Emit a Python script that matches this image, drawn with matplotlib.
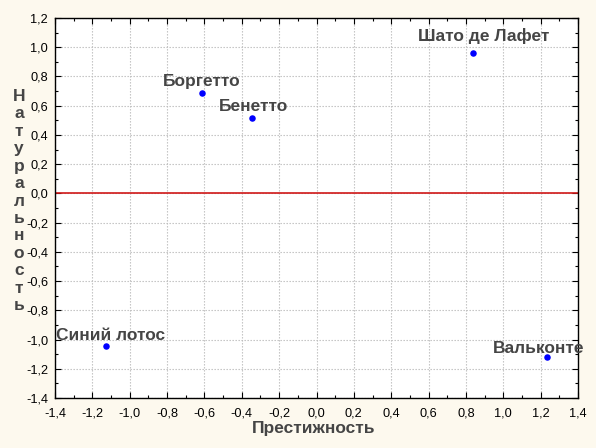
import matplotlib
matplotlib.use("Agg")
import matplotlib.pyplot as plt
from matplotlib.ticker import MultipleLocator, FuncFormatter

# brand positions on the perceptual map
brands = ["Боргетто", "Бенетто", "Шато де Лафет", "Синий лотос", "Вальконте"]
prestige = [-0.615, -0.345, 0.838, -1.125, 1.236]
naturalness = [0.688, 0.513, 0.962, -1.047, -1.120]

# label nudges in pixels (dx, dy) relative to the point
label_dx = [0, 1, 11, 4, -9]
label_dy = [7, 7, 12, 6, 4]

plt.rcParams["font.family"] = ["Liberation Sans", "DejaVu Sans"]

fig = plt.figure(figsize=(5.96, 4.48), dpi=100, facecolor="#fdf9ee")
ax = fig.add_axes([55 / 596, 1 - 398 / 448, 523 / 596, 380 / 448])
ax.set_facecolor("white")

ax.set_xlim(-1.4, 1.4)
ax.set_ylim(-1.4, 1.2)

ax.xaxis.set_major_locator(MultipleLocator(0.2))
ax.yaxis.set_major_locator(MultipleLocator(0.2))
ax.xaxis.set_minor_locator(MultipleLocator(0.1))
ax.yaxis.set_minor_locator(MultipleLocator(0.1))
comma = FuncFormatter(lambda v, pos: f"{v:.1f}".replace(".", ",").replace("-0,0", "0,0"))
ax.xaxis.set_major_formatter(comma)
ax.yaxis.set_major_formatter(comma)

ax.tick_params(which="both", direction="in", top=True, right=True,
               colors="black", labelsize=9.2)
ax.tick_params(which="major", length=4, width=0.8)
ax.tick_params(which="minor", length=2.5, width=0.8)
ax.tick_params(axis="x", which="major", pad=7)
ax.tick_params(axis="y", which="major", pad=5)

ax.grid(which="major", color="#bcbcbc", linestyle=(0, (1.2, 1.5)), linewidth=0.8)
ax.set_axisbelow(True)
for sp in ax.spines.values():
    sp.set_color("black")
    sp.set_linewidth(1.0)

ax.axhline(0, color="#d01818", linewidth=1.2, zorder=2)

ax.scatter(prestige, naturalness, s=22, color="#0000ff", zorder=3, linewidths=0)

for name, x, y, dx, dy in zip(brands, prestige, naturalness, label_dx, label_dy):
    ax.annotate(name, (x, y), xytext=(dx, dy), textcoords="offset pixels",
                ha="center", va="baseline", fontsize=12.5, fontweight="bold",
                color="#454545", zorder=4, annotation_clip=False)

fig.text(314 / 596, 1 - 428 / 448, "Престижность", ha="center", va="center",
         fontsize=12.5, fontweight="bold", color="#454545")

ylab = "Натуральность"
fig.text(19 / 596, 1 - 201 / 448, "\n".join(ylab), ha="center", va="center",
         fontsize=12.5, fontweight="bold", color="#454545", linespacing=1.2)

fig.savefig("out.png", dpi=100, facecolor=fig.get_facecolor())
